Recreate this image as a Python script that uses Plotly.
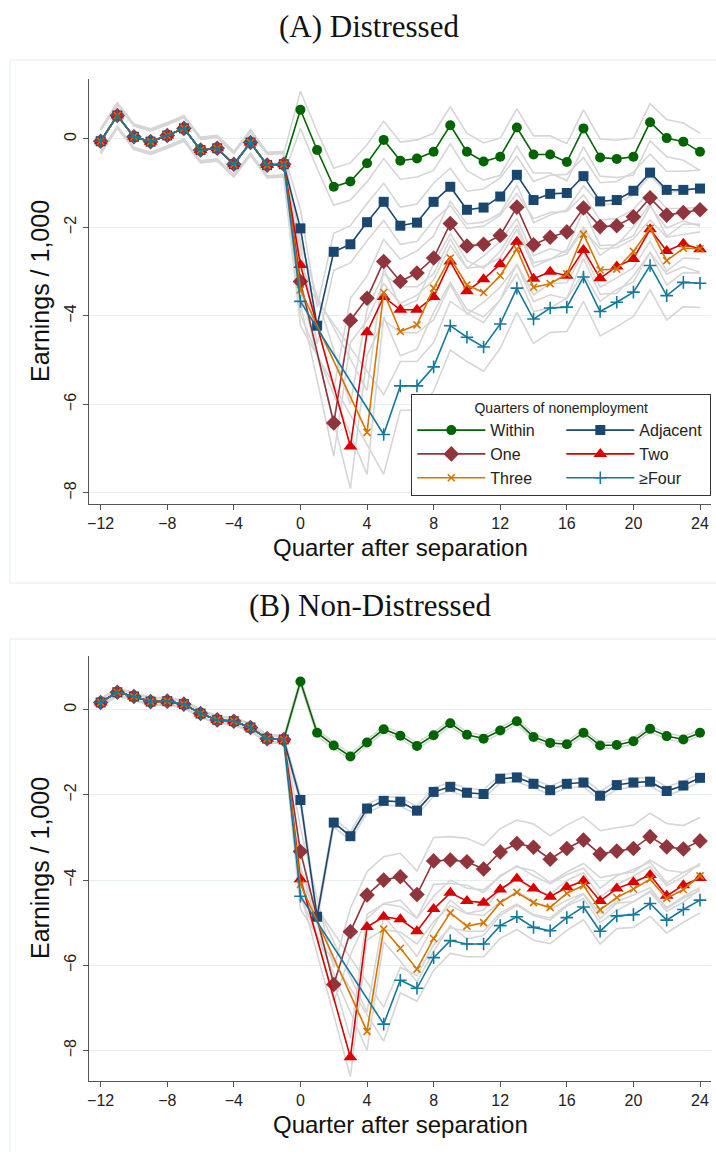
import plotly.graph_objects as go

# ---------------- data ----------------
quarters = list(range(-12, 25))
x_ticks = list(range(-12, 25, 4))
y_ticks = [0, -2, -4, -6, -8]
series_names = ["Within", "Adjacent", "One", "Two", "Three", "≥Four"]

# Panel A (Distressed): pre-separation quarters -12..-1 (common to all groups)
pre_A = [-0.05, 0.53, 0.05, -0.06, 0.08, 0.24, -0.25, -0.21, -0.57, -0.08, -0.59, -0.57]
# post-separation quarters 0..24 (None = quarters of nonemployment, not plotted)
A_within = [0.66, -0.25, -1.08, -0.96, -0.55, -0.02, -0.49, -0.44, -0.29, 0.31, -0.29, -0.51, -0.40,
            0.26, -0.35, -0.35, -0.52, 0.24, -0.42, -0.45, -0.40, 0.38, 0.02, -0.06, -0.29]
A_adjacent = [-2.02, -4.22, -2.55, -2.38, -1.88, -1.42, -1.96, -1.89, -1.42, -1.08, -1.60, -1.55, -1.30,
              -0.81, -1.38, -1.24, -1.22, -0.84, -1.41, -1.38, -1.17, -0.76, -1.15, -1.15, -1.12]
A_one = [-3.22, None, -6.42, -4.10, -3.60, -2.77, -3.22, -3.03, -2.69, -1.91, -2.42, -2.38, -2.18,
         -1.54, -2.39, -2.22, -2.10, -1.56, -1.98, -1.96, -1.76, -1.33, -1.72, -1.66, -1.60]
A_two = [-2.85, None, None, -6.95, -4.37, -3.57, -3.86, -3.86, -3.57, -2.77, -3.44, -3.17, -2.83,
         -2.32, -3.16, -3.00, -3.09, -2.51, -3.15, -2.88, -2.71, -2.04, -2.53, -2.37, -2.49]
A_three = [-3.41, None, None, None, -6.63, -3.47, -4.35, -4.20, -3.37, -2.69, -3.30, -3.47, -3.09,
           -2.49, -3.35, -3.27, -3.05, -2.15, -2.96, -2.94, -2.54, -2.02, -2.75, -2.47, -2.48]
A_four = [-3.67, None, None, None, None, -6.68, -5.58, -5.58, -5.15, -4.22, -4.48, -4.70, -4.18,
          -3.37, -4.07, -3.82, -3.80, -3.12, -3.90, -3.69, -3.46, -2.86, -3.54, -3.24, -3.26]

# Panel B (Non-Distressed)
pre_B = [0.17, 0.41, 0.31, 0.19, 0.20, 0.13, -0.09, -0.24, -0.27, -0.42, -0.68, -0.70]
B_within = [0.66, -0.54, -0.84, -1.10, -0.77, -0.46, -0.61, -0.85, -0.60, -0.32, -0.59, -0.68, -0.49,
            -0.27, -0.64, -0.78, -0.81, -0.54, -0.84, -0.83, -0.74, -0.45, -0.62, -0.70, -0.54]
B_adjacent = [-2.12, -4.86, -2.65, -2.97, -2.32, -2.14, -2.16, -2.37, -1.93, -1.81, -1.95, -1.98, -1.62,
              -1.59, -1.74, -1.89, -1.74, -1.71, -2.02, -1.77, -1.71, -1.69, -1.91, -1.78, -1.60]
B_one = [-3.33, None, -6.45, -5.21, -4.35, -4.00, -3.92, -4.34, -3.55, -3.53, -3.57, -3.74, -3.34,
         -3.14, -3.23, -3.51, -3.26, -3.06, -3.39, -3.32, -3.26, -2.98, -3.22, -3.27, -3.08]
B_two = [-3.98, None, None, -8.16, -5.10, -4.86, -4.92, -5.20, -4.68, -4.30, -4.49, -4.53, -4.22,
         -3.96, -4.20, -4.39, -4.17, -4.02, -4.49, -4.20, -4.05, -3.88, -4.37, -4.12, -3.95]
B_three = [-4.10, None, None, None, -7.55, -5.15, -5.60, -6.09, -5.37, -4.77, -5.08, -5.00, -4.53,
           -4.29, -4.53, -4.64, -4.31, -4.13, -4.70, -4.41, -4.21, -3.98, -4.43, -4.22, -3.90]
B_four = [-4.38, None, None, None, None, -7.38, -6.35, -6.54, -5.82, -5.42, -5.50, -5.50, -5.07,
          -4.86, -5.11, -5.19, -4.88, -4.63, -5.20, -4.84, -4.81, -4.55, -4.94, -4.69, -4.47]

# approximate 95% CI half-widths read from the grey bands (pre, post, first quarter back at work)
ci_pre_A = [0.24, 0.25, 0.26, 0.27, 0.28, 0.29]
ci_post_A = [0.42, 0.42, 0.50, 0.52, 0.55, 0.55]
ci_trough_A = [0.42, 0.50, 0.75, 0.95, 0.95, 0.90]
ci_pre_B = [0.07, 0.07, 0.08, 0.08, 0.09, 0.09]
ci_post_B = [0.07, 0.10, 0.55, 0.30, 0.30, 0.30]
ci_trough_B = [0.07, 0.15, 0.40, 0.45, 0.45, 0.40]

# ---------------- style ----------------
colors = ["#006400", "#1a476f", "#90353b", "#d90000", "#d47500", "#16789a"]
symbols = ["circle", "square", "diamond", "triangle-up", "x-thin", "cross-thin"]
msizes = [10, 10, 12, 12, 7, 9]
FONT = "Liberation Sans"
SERIF = "Liberation Serif"
GRID = "#e6eef0"
AX = "#555555"

W, H = 716, 1152
ML, MR, MT, MB = 89, 5, 79, 71
PW, PH = W - ML - MR, H - MT - MB


def px_x(px):
    return (px - ML) / PW


def px_y(py):
    return 1 - (py - MT) / PH


fig = go.Figure()

panels = [
    ("x", "y", pre_A, [A_within, A_adjacent, A_one, A_two, A_three, A_four], ci_pre_A, ci_post_A, ci_trough_A, True),
    ("x2", "y2", pre_B, [B_within, B_adjacent, B_one, B_two, B_three, B_four], ci_pre_B, ci_post_B, ci_trough_B, False),
]

for xa, ya, pre, posts, cpre, cpost, ctr, leg in panels:
    # grey confidence bands
    for i, post in enumerate(posts):
        est = pre + post
        first_back = next(k for k in range(1, len(post)) if post[k] is not None)
        up, lo = [], []
        for j, v in enumerate(est):
            if v is None:
                up.append(None); lo.append(None); continue
            if j < 12:
                h = cpre[i]
            elif (j - 12) == first_back and i >= 2:
                h = ctr[i]
            else:
                h = cpost[i]
            up.append(v + h); lo.append(v - h)
        for band in (up, lo):
            fig.add_trace(go.Scatter(x=quarters, y=band, mode="lines", xaxis=xa, yaxis=ya,
                                     line=dict(color="#d6d6d6", width=1.6), connectgaps=True,
                                     showlegend=False, hoverinfo="skip"))
    # point estimates
    for i, post in enumerate(posts):
        est = pre + post
        thin = symbols[i] in ("x-thin", "cross-thin")
        fig.add_trace(go.Scatter(
            x=quarters, y=est, mode="lines+markers", xaxis=xa, yaxis=ya, name=series_names[i],
            connectgaps=True, showlegend=leg,
            line=dict(color=colors[i], width=1.6),
            marker=dict(symbol=symbols[i], size=msizes[i], color=colors[i],
                        line=dict(color=colors[i], width=1.6 if thin else 0)),
        ))

axis_common = dict(showline=True, linecolor=AX, linewidth=1.3, ticks="outside", ticklen=5,
                   tickcolor=AX, tickwidth=1.3, zeroline=False,
                   tickfont=dict(family=FONT, size=16, color="#222222"))

fig.update_layout(
    width=W, height=H,
    margin=dict(l=ML, r=MR, t=MT, b=MB, autoexpand=False),
    paper_bgcolor="white", plot_bgcolor="white",
    xaxis=dict(domain=[0, 1], anchor="y", range=[-12.70, 24.66], tickvals=x_ticks, showgrid=False, **axis_common),
    yaxis=dict(domain=[px_y(504), 1], anchor="x", range=[-8.25, 1.356], tickvals=y_ticks, tickangle=-90,
               showgrid=True, gridcolor=GRID, gridwidth=1.2, **axis_common),
    xaxis2=dict(domain=[0, 1], anchor="y2", range=[-12.70, 24.66], tickvals=x_ticks, showgrid=False, **axis_common),
    yaxis2=dict(domain=[0, px_y(656)], anchor="x2", range=[-8.716, 1.26], tickvals=y_ticks, tickangle=-90,
                showgrid=True, gridcolor=GRID, gridwidth=1.2, **axis_common),
    legend=dict(orientation="h", x=1.0005, xanchor="right", y=px_y(394), yanchor="top",
                entrywidth=66, entrywidthmode="pixels", itemwidth=68,
                bordercolor="#333333", borderwidth=1, bgcolor="white",
                font=dict(family=FONT, size=16, color="#222222"),
                title=dict(text="Quarters of nonemployment", side="top center",
                           font=dict(family=FONT, size=14, color="#222222")),
                traceorder="normal", tracegroupgap=0),
    showlegend=True,
)

# graph-region outlines
fig.add_shape(type="rect", xref="paper", yref="paper", x0=px_x(10), x1=px_x(730), y0=px_y(583), y1=px_y(60),
              line=dict(color=GRID, width=1.2), layer="below")
fig.add_shape(type="rect", xref="paper", yref="paper", x0=px_x(10), x1=px_x(730), y0=px_y(1170), y1=px_y(639),
              line=dict(color=GRID, width=1.2), layer="below")

annos = [
    dict(text="(A) Distressed", x=px_x(369), y=px_y(26), font=dict(family=SERIF, size=31, color="#111111")),
    dict(text="(B) Non-Distressed", x=px_x(370), y=px_y(605), font=dict(family=SERIF, size=31, color="#111111")),
    dict(text="Quarter after separation", x=0.5, y=px_y(547), font=dict(family=FONT, size=24, color="#111111")),
    dict(text="Quarter after separation", x=0.5, y=px_y(1124), font=dict(family=FONT, size=24, color="#111111")),
    dict(text="Earnings / 1,000", x=px_x(40), y=px_y(291), textangle=-90,
         font=dict(family=FONT, size=25, color="#111111")),
    dict(text="Earnings / 1,000", x=px_x(40), y=px_y(868), textangle=-90,
         font=dict(family=FONT, size=25, color="#111111")),
]
for a in annos:
    fig.add_annotation(xref="paper", yref="paper", xanchor="center", yanchor="middle", showarrow=False, **a)

fig.write_html("out.html", config={"displayModeBar": False},
               post_script="document.body.style.margin='0px';document.body.style.padding='0px';")
